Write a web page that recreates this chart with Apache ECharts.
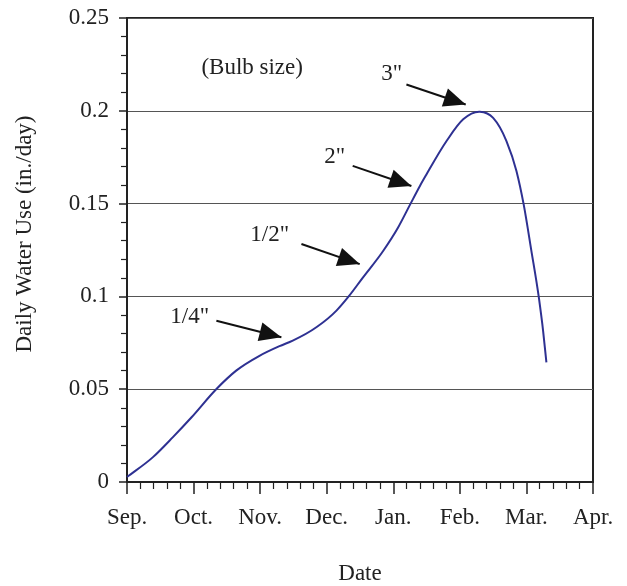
<!DOCTYPE html>
<html>
<head>
<meta charset="utf-8">
<script src="https://cdn.jsdelivr.net/npm/echarts@6/dist/echarts.min.js"></script>
<style>
html,body{margin:0;padding:0;background:#fff;}
#chart{width:627px;height:586px;}
</style>
</head>
<body>
<div id="chart"></div>
<script>
// Month labels (x = months since Sep. 1)
var monthLabels = ['Sep.', 'Oct.', 'Nov.', 'Dec.', 'Jan.', 'Feb.', 'Mar.', 'Apr.'];
// Curve: x in months since Sep., y in in./day
var curveMonths = [0, 0.39, 0.69, 0.97, 1.34, 1.64, 1.99, 2.29, 2.49, 2.85, 3.15, 3.33, 3.54, 3.85, 4.07, 4.25, 4.40, 4.50, 4.80, 5.05, 5.30, 5.50, 5.70, 5.85, 5.96, 6.07, 6.19, 6.25, 6.30];
var curveValues = [0.0027, 0.0134, 0.0242, 0.0349, 0.050, 0.060, 0.068, 0.0732, 0.0762, 0.0835, 0.0925, 0.100, 0.110, 0.1246, 0.137, 0.1493, 0.1595, 0.1658, 0.1837, 0.1954, 0.1995, 0.1962, 0.1837, 0.1676, 0.1493, 0.1255, 0.0985, 0.0816, 0.0645];
// Annotation labels
var noteTexts = ['(Bulb size)', '3"', '2"', '1/2"', '1/4"'];
var noteMonths = [1.88, 3.976, 3.12, 2.144, 0.942];
var noteValues = [0.223, 0.220, 0.175, 0.1332, 0.0891];
// Arrows: start month, start value, tip month, tip value
var arrowStartMonths = [4.197, 3.390, 2.620, 1.343];
var arrowStartValues = [0.2142, 0.1703, 0.1282, 0.0869];
var arrowTipMonths = [5.088, 4.272, 3.496, 2.319];
var arrowTipValues = [0.2034, 0.1595, 0.1174, 0.0780];

var FONT = 'Liberation Serif';
var chart = echarts.init(document.getElementById('chart'));

var curveData = curveMonths.map(function (m, i) { return [m, curveValues[i]]; });
var arrowData = arrowStartMonths.map(function (m, i) {
  return [
    { coord: [m, arrowStartValues[i]] },
    { coord: [arrowTipMonths[i], arrowTipValues[i]] }
  ];
});
var noteData = noteTexts.map(function (t, i) {
  return { name: t, coord: [noteMonths[i], noteValues[i]] };
});

// Smooth cubic Hermite curve through the data points, positioned by the axes
function renderCurve(params, api) {
  if (params.dataIndex !== 0) return null;
  var pts = curveData.map(function (d) { return api.coord(d); });
  var n = pts.length, h = [], s = [], m = [];
  for (var i = 0; i < n - 1; i++) {
    h[i] = pts[i + 1][0] - pts[i][0];
    s[i] = (pts[i + 1][1] - pts[i][1]) / h[i];
  }
  m[0] = s[0];
  m[n - 1] = s[n - 2];
  for (i = 1; i < n - 1; i++) {
    m[i] = (h[i] * s[i - 1] + h[i - 1] * s[i]) / (h[i - 1] + h[i]);
  }
  var d = 'M' + pts[0][0] + ',' + pts[0][1];
  for (i = 0; i < n - 1; i++) {
    var c1x = pts[i][0] + h[i] / 3, c1y = pts[i][1] + m[i] * h[i] / 3;
    var c2x = pts[i + 1][0] - h[i] / 3, c2y = pts[i + 1][1] - m[i + 1] * h[i] / 3;
    d += ' C' + c1x + ',' + c1y + ' ' + c2x + ',' + c2y + ' ' + pts[i + 1][0] + ',' + pts[i + 1][1];
  }
  return {
    type: 'path',
    shape: { pathData: d },
    style: { stroke: '#2e3192', lineWidth: 2, fill: null }
  };
}

chart.setOption({
  animation: false,
  backgroundColor: '#fff',
  grid: { left: 127, right: 34, top: 18, bottom: 104, containLabel: false, outerBoundsMode: 'none',
    show: true, borderColor: '#222', borderWidth: 2 },
  xAxis: {
    type: 'value', min: 0, max: 7, interval: 1,
    name: 'Date', nameLocation: 'middle', nameGap: 80,
    nameTextStyle: { fontFamily: FONT, fontSize: 23, color: '#222' },
    axisLine: { lineStyle: { color: '#222', width: 2 } },
    axisTick: { length: 12, lineStyle: { color: '#222', width: 1.5 } },
    minorTick: { show: true, splitNumber: 5, length: 7, lineStyle: { color: '#222', width: 1.2 } },
    splitLine: { show: false },
    axisLabel: { margin: 24, fontFamily: FONT, fontSize: 23, color: '#222',
      formatter: function (v) { return monthLabels[Math.round(v)]; } }
  },
  yAxis: {
    type: 'value', min: 0, max: 0.25, interval: 0.05,
    axisLine: { show: true, lineStyle: { color: '#222', width: 2 } },
    axisTick: { show: true, length: 8, lineStyle: { color: '#222', width: 1.5 } },
    minorTick: { show: true, splitNumber: 5, length: 6, lineStyle: { color: '#222', width: 1.2 } },
    splitLine: { show: true, lineStyle: { color: '#555', width: 1 } },
    axisLabel: { margin: 18, fontFamily: FONT, fontSize: 23, color: '#222' }
  },
  graphic: [{
    type: 'text', x: 25, y: 234, rotation: Math.PI / 2,
    style: { text: 'Daily Water Use (in./day)', fontFamily: FONT, fontSize: 23, fill: '#222', align: 'center', verticalAlign: 'middle' }
  }],
  series: [{
    type: 'custom', data: curveData, renderItem: renderCurve, silent: true,
    encode: { x: 0, y: 1 }
  }, {
    type: 'line', data: [], showSymbol: false, silent: true,
    markLine: {
      silent: true, animation: false,
      symbol: ['none', 'triangle'],
      symbolSize: [19, 22],
      symbolOffset: [0, [0, 11]],
      lineStyle: { color: '#111', width: 2, type: 'solid' },
      itemStyle: { color: '#111' },
      label: { show: false },
      data: arrowData
    },
    markPoint: {
      silent: true, symbol: 'circle', symbolSize: 0,
      label: { show: true, position: 'inside', formatter: '{b}', fontFamily: FONT, fontSize: 23, color: '#222' },
      data: noteData
    }
  }]
});
</script>
</body>
</html>
